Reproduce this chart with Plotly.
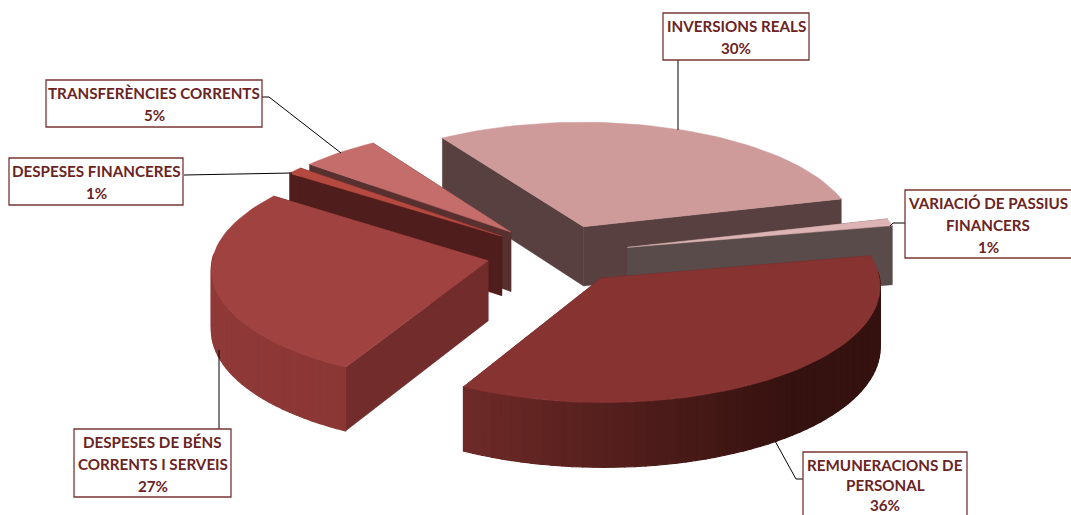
import math
import plotly.graph_objects as go

# ---- data ----
CATEGORIES = ["INVERSIONS REALS", "VARIACIÓ DE PASSIUS FINANCERS", "REMUNERACIONS DE PERSONAL",
              "DESPESES DE BÉNS CORRENTS I SERVEIS", "DESPESES FINANCERES", "TRANSFERÈNCIES CORRENTS"]
VALUES = [30, 1, 36, 27, 1, 5]
LABEL_LINES = [["INVERSIONS REALS"], ["VARIACIÓ DE PASSIUS", "FINANCERS"], ["REMUNERACIONS DE", "PERSONAL"],
               ["DESPESES DE BÉNS", "CORRENTS I SERVEIS"], ["DESPESES FINANCERES"], ["TRANSFERÈNCIES CORRENTS"]]

# ---- styles ----
TOP = ["#CF9A9A", "#DDB3B3", "#873332", "#A04240", "#B5483F", "#C46D6A"]
WALL_A = ["#57403F", "#5A4B4B", "#6A2827", "#722C2C", "#4F1D1B", "#57302F"]
WALL_B = ["#57403F", "#5A4B4B", "#6A2827", "#722C2C", "#4F1D1B", "#57302F"]
RIM_L = ["#B98888", "#5A4B4B", "#6E2A28", "#8F3A38", "#4F1D1B", "#57302F"]
RIM_R = ["#B98888", "#5A4B4B", "#35120F", "#8A3634", "#4F1D1B", "#57302F"]
RIM_SPAN = [(444, 843), (627, 894), (462, 790), (212, 350), (285, 503), (310, 513)]
BOXES = [(663, 13, 809, 60), (905, 190, 1075, 258), (803, 452, 967, 522),
         (74, 429, 231, 497), (9, 158, 183, 205), (46, 80, 262, 127)]
LINE_PITCH = [21.8, 21.8, 20.2, 21.8, 21.8, 21.8]
LEADERS = [[(678, 60), (678, 130)], [(905, 223), (893, 223), (890, 226)],
           [(803, 479), (796, 479), (775, 441)], [(219, 429), (219, 350)],
           [(184, 175), (292, 173)], [(262, 97), (269, 97), (341, 153)]]
TEXT_COLOR = "#6A2424"
BOX_COLOR = "#7A3434"

# ---- pie geometry ----
CX, CY, RX, RY = 558, 254, 275, 114
PERSP, DEPTH, EXPLODE = 0.06, 60, 0.26
START = -122.8
ARC_STEP = 2.0


def project(x, y, drop=0.0):
    s = 1 / (1 - PERSP * y)
    return CX + RX * x * s, CY + RY * y * s + drop * s


def mix(a, b, t):
    ca = [int(a[i:i + 2], 16) for i in (1, 3, 5)]
    cb = [int(b[i:i + 2], 16) for i in (1, 3, 5)]
    return "rgb(%d,%d,%d)" % tuple(round(p + (q - p) * t) for p, q in zip(ca, cb))


fig = go.Figure()


def poly(points, color, width=0.5):
    xs = [p[0] for p in points] + [points[0][0]]
    ys = [p[1] for p in points] + [points[0][1]]
    fig.add_trace(go.Scatter(x=xs, y=ys, mode="lines", fill="toself", fillcolor=color,
                             line=dict(color=color, width=width), hoverinfo="skip", showlegend=False))


total = sum(VALUES)
angles = []
a = START
for v in VALUES:
    angles.append((a, a + v / total * 360))
    a += v / total * 360

# back-to-front paint order
ORDER = [0, 1, 5, 4, 3, 2]
for i in ORDER:
    a0, a1 = angles[i]
    mid = math.radians((a0 + a1) / 2)
    ox, oy = EXPLODE * math.cos(mid), EXPLODE * math.sin(mid)
    n = max(2, int((a1 - a0) / ARC_STEP))
    arc = [(ox + math.cos(math.radians(a0 + (a1 - a0) * k / n)),
            oy + math.sin(math.radians(a0 + (a1 - a0) * k / n))) for k in range(n + 1)]
    apex = (ox, oy)
    poly([project(*apex), project(*arc[0]), project(*arc[0], DEPTH), project(*apex, DEPTH)], WALL_A[i])
    poly([project(*apex), project(*arc[-1]), project(*arc[-1], DEPTH), project(*apex, DEPTH)], WALL_B[i])
    for k in range(n):
        p, q = arc[k], arc[k + 1]
        if math.sin(math.radians(a0 + (a1 - a0) * (k + 0.5) / n)) > -0.05:
            xm = (project(*p)[0] + project(*q)[0]) / 2
            t = min(max((xm - RIM_SPAN[i][0]) / (RIM_SPAN[i][1] - RIM_SPAN[i][0]), 0), 1)
            poly([project(*p), project(*q), project(*q, DEPTH), project(*p, DEPTH)],
                 mix(RIM_L[i], RIM_R[i], t), width=1.2)
    poly([project(*apex)] + [project(*p) for p in arc], TOP[i])

# leader lines
for pts in LEADERS:
    fig.add_trace(go.Scatter(x=[p[0] for p in pts], y=[p[1] for p in pts], mode="lines",
                             line=dict(color="#000000", width=1), hoverinfo="skip", showlegend=False))

# label boxes and text
shapes, annos = [], []
for lines, v, b, pitch in zip(LABEL_LINES, VALUES, BOXES, LINE_PITCH):
    shapes.append(dict(type="rect", x0=b[0], y0=b[1], x1=b[2], y1=b[3], xref="x", yref="y",
                       fillcolor="white", line=dict(color=BOX_COLOR, width=1.3), layer="above"))
    all_lines = lines + [f"{v}%"]
    cx = (b[0] + min(b[2], 1071)) / 2
    for j, line in enumerate(all_lines):
        annos.append(dict(x=cx, y=b[1] + 13 + j * pitch, xref="x", yref="y", text=f"<b>{line}</b>",
                          showarrow=False, xanchor="center", yanchor="middle",
                          font=dict(family="Lato", size=15.2, color=TEXT_COLOR)))

fig.update_layout(width=1071, height=515, margin=dict(l=0, r=0, t=0, b=0),
                  paper_bgcolor="white", plot_bgcolor="white", showlegend=False,
                  xaxis=dict(range=[0, 1071], visible=False, fixedrange=True),
                  yaxis=dict(range=[515, 0], visible=False, fixedrange=True),
                  shapes=shapes, annotations=annos)
fig.write_html("out.html", config={"displayModeBar": False},
               post_script="document.body.style.margin='0';document.body.style.overflow='hidden';")
